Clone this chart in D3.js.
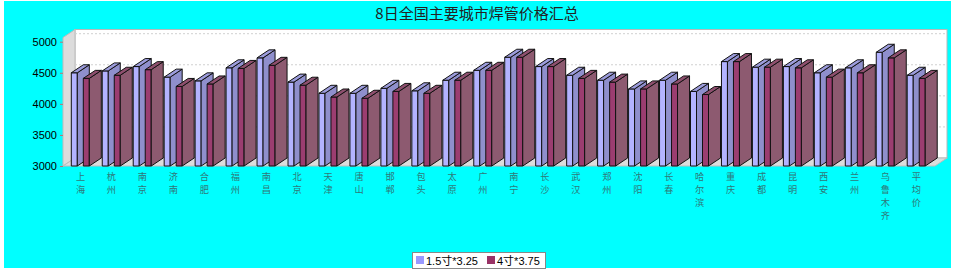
<!DOCTYPE html>
<html lang="zh">
<head>
<meta charset="UTF-8">
<title>8日全国主要城市焊管价格汇总</title>
<script src="https://d3js.org/d3.v7.min.js"></script>
<style>
  body { margin: 0; padding: 0; background: #fff; }
  svg { display: block; }
  .tick text { font-family: "Liberation Sans", Arial, sans-serif; font-size: 11px; fill: #000; }
</style>
</head>
<body>
<svg id="chart" width="955" height="269"></svg>
<script>
// data
const categories = ["上海","杭州","南京","济南","合肥","福州","南昌","北京","天津","唐山",
  "邯郸","包头","太原","广州","南宁","长沙","武汉","郑州","沈阳","长春",
  "哈尔滨","重庆","成都","昆明","西安","兰州","乌鲁木齐","平均价"];
const seriesNames = ["1.5寸*3.25", "4寸*3.75"];
const series1 = [4500,4530,4600,4430,4370,4580,4740,4350,4170,4170,
  4250,4210,4380,4540,4750,4600,4460,4380,4240,4380,
  4200,4680,4590,4600,4500,4580,4830,4460];
const series2 = [4410,4460,4550,4280,4320,4570,4620,4300,4110,4090,
  4200,4170,4380,4540,4750,4600,4410,4350,4240,4320,
  4150,4680,4590,4580,4430,4500,4740,4410];
const yTicks = [3000, 3500, 4000, 4500, 5000];

const svg = d3.select("#chart");

// background
svg.append("rect").attr("x", 4).attr("y", 1).attr("width", 947).attr("height", 267).attr("fill", "#00ffff");

// plot geometry (front face) + 3d depth
const x0 = 63, x1 = 935, yTop = 37.5, yBot = 166;
const dx = 12, dy = -8;

const y = d3.scaleLinear().domain([3000, 5000]).range([yBot, 41.7]);
const x = d3.scaleBand().domain(categories).range([x0, x0 + 28 * 30.96]);
const xs = d3.scaleBand().domain([0, 1]).range([8.3, 26.3]).paddingInner(0.5);

// title
svg.append("text")
  .attr("x", 477).attr("y", 18.5)
  .attr("text-anchor", "middle")
  .attr("font-family", "'Noto Sans CJK SC', sans-serif")
  .attr("font-size", 15)
  .attr("fill", "#222")
  .text("8日全国主要城市焊管价格汇总");

// back wall
svg.append("rect")
  .attr("x", x0 + dx).attr("y", yTop + dy)
  .attr("width", x1 - x0).attr("height", yBot - yTop)
  .attr("fill", "#fff").attr("stroke", "#b8b8b8");

// left wall
svg.append("polygon")
  .attr("points", [[x0, yBot], [x0, yTop], [x0 + dx, yTop + dy], [x0 + dx, yBot + dy]].join(" "))
  .attr("fill", "#dcdcdc").attr("stroke", "#bcbcbc");

// floor
svg.append("polygon")
  .attr("points", [[x0, yBot], [x0 + dx, yBot + dy], [x1 + dx, yBot + dy], [x1, yBot]].join(" "))
  .attr("fill", "#dcdcdc").attr("stroke", "#bcbcbc");

// gridlines on back wall
svg.append("g").selectAll("line")
  .data(yTicks.slice(1))
  .join("line")
  .attr("x1", x0 + dx).attr("x2", x1 + dx)
  .attr("y1", d => y(d) + dy).attr("y2", d => y(d) + dy)
  .attr("stroke", "#d0d0d0").attr("stroke-dasharray", "2,2");

// y axis
const yAxis = svg.append("g")
  .attr("transform", `translate(${x0},0)`)
  .call(d3.axisLeft(y).tickValues(yTicks).tickFormat(d3.format("d")).tickSize(3).tickPadding(3));
yAxis.select(".domain").remove();
yAxis.selectAll(".tick line").attr("stroke", "#c07070");

// bars
const colors = [
  { front: "#b3b3ff", side: "#8f8fcc", top: "#9c9cdc" },
  { front: "#9b3d70", side: "#8d5a70", top: "#8e4f6e" }
];
const values = [series1, series2];
const bars = [];
categories.forEach((c, i) => {
  values.forEach((s, k) => bars.push({ c, k, v: s[i] }));
});

const g = svg.append("g").attr("stroke", "#111").attr("stroke-width", 1).attr("stroke-linejoin", "round");
bars.forEach(b => {
  const xl = x(b.c) + xs(b.k), w = xs.bandwidth();
  const yt = y(b.v);
  const col = colors[b.k];
  g.append("rect").attr("x", xl).attr("y", yt).attr("width", w).attr("height", yBot - yt).attr("fill", col.front);
  g.append("polygon")
    .attr("points", [[xl + w, yt], [xl + w + dx, yt + dy], [xl + w + dx, yBot + dy], [xl + w, yBot]].join(" "))
    .attr("fill", col.side);
  g.append("polygon")
    .attr("points", [[xl, yt], [xl + w, yt], [xl + w + dx, yt + dy], [xl + dx, yt + dy]].join(" "))
    .attr("fill", col.top);
});

// category labels, stacked vertically
const lab = svg.append("g")
  .attr("font-family", "'Noto Sans CJK SC', sans-serif")
  .attr("font-size", 9.2)
  .attr("fill", "#2f7878")
  .attr("text-anchor", "middle");
categories.forEach(c => {
  Array.from(c).forEach((ch, j) => {
    lab.append("text")
      .attr("x", x(c) + x.bandwidth() / 2 + 2)
      .attr("y", 179.5 + j * 13.3)
      .text(ch);
  });
});

// legend
const lg = svg.append("g").attr("font-family", "'Liberation Sans', 'Noto Sans CJK SC', sans-serif").attr("font-size", 11);
lg.append("rect").attr("x", 412.5).attr("y", 252.5).attr("width", 133).attr("height", 16)
  .attr("fill", "#fff").attr("stroke", "#888");
const legendX = [416, 487];
seriesNames.forEach((n, k) => {
  lg.append("rect").attr("x", legendX[k]).attr("y", 256).attr("width", 8).attr("height", 8)
    .attr("fill", k === 0 ? "#9999ff" : "#993366");
  lg.append("text").attr("x", legendX[k] + 10).attr("y", 264.5).attr("fill", "#000").text(n);
});
</script>
</body>
</html>
